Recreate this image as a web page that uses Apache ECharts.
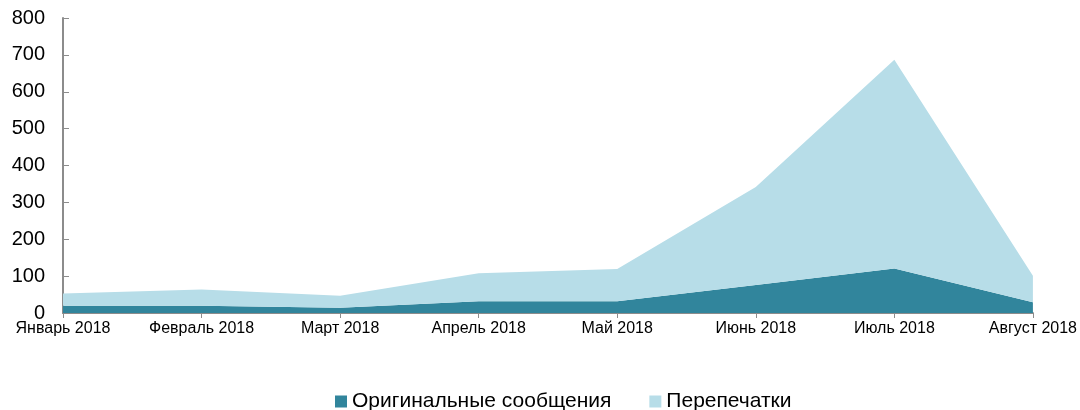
<!DOCTYPE html>
<html>
<head>
<meta charset="utf-8">
<script src="https://cdn.jsdelivr.net/npm/echarts@6/dist/echarts.min.js"></script>
<style>
  html, body { margin: 0; padding: 0; background: #fff; }
  #chart { width: 1080px; height: 410px; }
</style>
</head>
<body>
<div id="chart"></div>
<script>
const months = ['Январь 2018', 'Февраль 2018', 'Март 2018', 'Апрель 2018', 'Май 2018', 'Июнь 2018', 'Июль 2018', 'Август 2018'];
const originals = [20, 20, 14, 32, 32, 76, 121, 29];
const reprints = [33, 44, 33, 76, 87, 266, 566, 72];
const yTicks = { min: 0, max: 800, interval: 100 };

const font = 'Liberation Sans, Arial, sans-serif';
const axisGray = '#8c8c8c';

const chart = echarts.init(document.getElementById('chart'));
chart.setOption({
  animation: false,
  grid: { left: 63, right: 46, top: 18, bottom: 97 },
  legend: {
    bottom: -7,
    left: 330,
    itemWidth: 12,
    itemHeight: 12,
    itemGap: 38,
    icon: 'rect',
    textStyle: { fontFamily: font, fontSize: 21, color: '#000' },
    data: ['Оригинальные сообщения', 'Перепечатки']
  },
  xAxis: {
    type: 'category',
    data: months,
    boundaryGap: false,
    axisLine: { lineStyle: { color: axisGray, width: 2 } },
    axisTick: { alignWithLabel: true, length: 5, lineStyle: { color: axisGray, width: 1 } },
    axisLabel: { fontFamily: font, fontSize: 16, color: '#000', margin: 8, interval: 0 }
  },
  yAxis: {
    type: 'value',
    min: yTicks.min,
    max: yTicks.max,
    interval: yTicks.interval,
    axisLine: { show: true, lineStyle: { color: axisGray, width: 2 } },
    axisTick: { show: true, inside: true, length: 6, lineStyle: { color: axisGray } },
    splitLine: { show: false },
    axisLabel: { fontFamily: font, fontSize: 20, color: '#000', margin: 18 }
  },
  series: [
    {
      name: 'Оригинальные сообщения',
      type: 'line',
      stack: 'total',
      data: originals,
      symbol: 'none',
      lineStyle: { width: 0 },
      itemStyle: { color: '#31859c' },
      areaStyle: { color: '#31859c', opacity: 1 }
    },
    {
      name: 'Перепечатки',
      type: 'line',
      stack: 'total',
      data: reprints,
      symbol: 'none',
      lineStyle: { width: 0 },
      itemStyle: { color: '#b7dde8' },
      areaStyle: { color: '#b7dde8', opacity: 1 }
    }
  ]
});
</script>
</body>
</html>
